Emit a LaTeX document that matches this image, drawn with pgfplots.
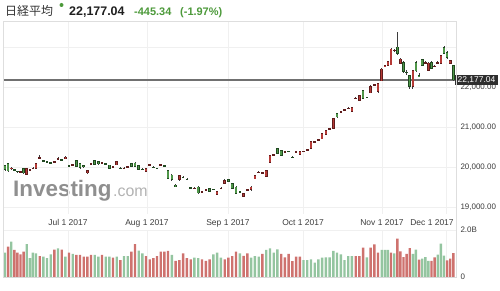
\documentclass[border=0pt]{standalone}
\usepackage{pgfplots}
\pgfplotsset{compat=1.18}
\usepackage{pgfplotstable}
\usepackage{fontspec}
\setmainfont{Liberation Sans}
\newfontfamily\cjk{Noto Sans CJK JP}
\definecolor{upfill}{RGB}{182,58,54}
\definecolor{upedge}{RGB}{95,28,28}
\definecolor{dnfill}{RGB}{78,150,72}
\definecolor{dnedge}{RGB}{32,72,32}
\definecolor{wickc}{RGB}{60,60,60}
\definecolor{volred}{RGB}{206,114,110}
\definecolor{volgreen}{RGB}{148,197,160}
\definecolor{hdrgreen}{RGB}{76,153,58}
\definecolor{pricec}{RGB}{112,112,112}
\definecolor{gridc}{RGB}{240,240,240}
\definecolor{borderc}{RGB}{222,222,222}
\definecolor{labelc}{RGB}{60,60,60}

\pgfplotstableread{
x o h l c v vc
5.0 20040 20060 19910 19930 1.04 1
8.1 20080 20100 19880 19900 1.29 0
11.2 19950 19990 19930 19975 1.50 1
14.3 19930 19945 19900 19920 1.15 0
17.4 19895 19910 19860 19885 1.04 0
20.5 19880 19910 19860 19890 0.96 0
23.6 19960 19975 19830 19850 1.08 0
26.7 19810 19975 19790 19960 1.40 1
29.8 19930 19960 19910 19945 0.80 1
32.9 19960 19990 19940 19970 1.04 1
36.0 19970 20100 19960 20090 1.01 1
39.7 20230 20300 20200 20240 0.89 0
43.3 20170 20180 20130 20150 0.87 1
47.0 20140 20150 20110 20130 0.80 1
50.7 20110 20130 20090 20100 0.96 1
54.3 20130 20160 20110 20140 1.17 0
58.0 20200 20240 20190 20215 1.22 1
61.7 20180 20200 20150 20170 1.17 0
65.3 20220 20270 20200 20250 0.87 1
69.0 20040 20060 20000 20030 1.04 0
72.7 20050 20080 20030 20060 0.98 1
76.3 20160 20175 20000 20020 0.94 0
80.0 20090 20100 19960 19980 0.94 0
83.7 20040 20060 19970 20000 0.87 0
87.3 19850 19935 19830 19920 0.87 0
91.0 20080 20110 20070 20095 0.94 0
94.7 20155 20175 20040 20060 0.94 1
98.3 20130 20140 20060 20080 0.87 1
102.0 20100 20125 20090 20110 0.94 0
105.7 20085 20095 20050 20070 0.87 1
109.3 20050 20060 19950 19970 0.87 1
113.0 20000 20030 19990 20010 0.82 0
116.7 20050 20140 20040 20130 0.87 1
120.3 19975 19990 19950 19965 0.72 0
124.0 19960 19990 19940 19970 0.89 1
127.7 20000 20025 19985 20010 0.89 1
131.3 20090 20100 19995 20010 1.08 0
135.0 20100 20133 20000 20020 1.40 0
138.7 20040 20060 19930 19945 1.12 1
142.3 19950 19965 19920 19940 1.01 1
146.0 19890 19980 19875 19965 0.89 0
149.7 20040 20075 20030 20055 0.75 0
153.3 20000 20015 19975 19990 0.80 0
157.0 19970 19985 19945 19960 0.89 0
160.7 20045 20070 20030 20055 1.08 0
164.3 20030 20045 20000 20020 1.08 0
168.0 19920 19935 19700 19720 1.11 0
171.8 19800 19815 19660 19680 0.94 1
175.6 19550 19570 19500 19520 0.69 0
179.3 19680 19810 19660 19790 0.72 0
183.1 19750 19770 19720 19740 1.01 0
186.9 19700 19720 19670 19690 0.80 0
190.7 19480 19500 19440 19465 0.75 0
194.4 19460 19490 19440 19470 0.82 1
198.2 19500 19515 19330 19350 0.80 1
202.0 19380 19410 19360 19390 0.75 0
205.8 19420 19450 19400 19430 0.69 0
209.6 19465 19480 19370 19390 0.75 0
213.3 19445 19460 19420 19435 0.96 1
217.1 19305 19395 19290 19380 1.04 1
220.9 19460 19490 19445 19470 0.82 1
224.7 19580 19690 19565 19670 0.75 0
228.4 19690 19710 19620 19640 0.82 0
232.2 19590 19600 19455 19470 0.89 0
236.0 19500 19515 19330 19345 1.08 0
239.8 19390 19410 19360 19380 1.01 1
243.6 19260 19355 19240 19340 0.90 0
247.3 19420 19450 19400 19430 1.00 0
251.1 19430 19520 19410 19500 0.82 1
254.9 19700 19810 19690 19790 0.89 1
258.7 19860 19890 19840 19870 0.87 1
262.4 19850 19880 19830 19860 0.98 0
266.2 19770 19920 19755 19905 1.15 1
270.0 20110 20310 20100 20295 1.22 1
273.7 20295 20330 20280 20305 1.04 1
277.4 20460 20475 20330 20345 1.18 1
281.2 20420 20430 20265 20280 0.98 0
284.9 20380 20410 20365 20390 0.84 0
288.6 20395 20410 20370 20385 0.98 0
292.3 20250 20265 20225 20240 0.68 0
296.1 20375 20400 20360 20385 0.87 0
299.8 20305 20395 20290 20380 0.87 0
303.5 20385 20410 20370 20395 0.72 1
307.2 20420 20450 20405 20430 0.72 1
311.0 20470 20645 20460 20630 0.75 1
314.7 20625 20660 20610 20640 0.61 1
318.4 20680 20710 20665 20690 0.75 1
322.1 20700 20855 20690 20840 0.82 1
325.8 20810 20935 20795 20920 0.83 1
329.6 20950 20985 20930 20965 0.83 1
333.3 20970 21225 20960 21210 1.11 1
337.0 21335 21350 21235 21250 1.04 1
340.8 21375 21405 21360 21390 0.96 1
344.5 21420 21450 21400 21430 0.72 1
348.2 21460 21490 21445 21470 0.89 1
351.9 21390 21505 21375 21490 0.89 1
355.7 21710 21740 21695 21720 0.89 0
359.4 21665 21810 21650 21795 0.89 0
363.1 21920 21935 21705 21720 1.25 0
366.8 21745 21760 21720 21735 0.83 1
370.6 21850 22040 21840 22020 1.25 0
374.3 22050 22085 22035 22065 1.39 0
378.0 21880 22090 21860 22080 1.04 0
381.7 22150 22470 22140 22450 1.15 1
384.8 22510 22560 22490 22545 1.15 1
387.9 22545 22655 22530 22640 1.15 1
391.0 22550 22965 22540 22950 1.04 0
394.2 22910 22960 22880 22925 1.01 1
397.3 23000 23382 22790 22840 1.63 0
400.4 22590 22720 22570 22700 1.09 0
403.5 22620 22640 22360 22380 0.85 0
406.6 22370 22417 22310 22360 0.98 0
409.7 22290 22300 21960 22010 1.23 0
412.8 22010 22425 21960 22410 0.98 1
415.9 22620 22650 22380 22400 1.16 1
419.1 22290 22350 22250 22265 0.74 0
422.2 22680 22700 22520 22540 0.78 1
425.3 22600 22650 22580 22615 0.85 1
428.4 22420 22620 22400 22600 0.69 1
431.5 22620 22640 22450 22470 0.69 0
434.6 22510 22550 22490 22525 0.83 0
437.7 22600 22650 22580 22620 0.95 1
440.8 22590 22800 22570 22780 1.42 1
444.0 22990 23020 22820 22840 0.91 1
447.1 22870 22890 22710 22730 0.71 0
450.2 22590 22680 22570 22660 0.78 0
453.3 22540 22560 22150 22177 1.02 0
}\data

\pgfplotsset{
  candle/.style={draw=none, mark=none, forget plot,
    error bars/y dir=both, error bars/y explicit, error bars/error mark=none},
}

\begin{document}
\begin{tikzpicture}[x=1bp,y=1bp]
\path[use as bounding box] (0bp,0bp) rectangle (500bp,291bp);

% header
\node[anchor=base west, inner sep=0, text=black!80, font=\cjk\fontsize{12}{12}\selectfont] at (5bp,275.4bp) {日経平均};
\fill[hdrgreen] (61.5bp,286bp) circle (2bp);
\node[anchor=base west, inner sep=0, text=black!88, font=\bfseries\fontsize{12.5}{12}\selectfont] at (69bp,275.5bp) {22,177.04};
\node[anchor=base west, inner sep=0, text=hdrgreen, font=\bfseries\fontsize{11}{12}\selectfont] at (134bp,275.5bp) {-445.34};
\node[anchor=base west, inner sep=0, text=hdrgreen, font=\bfseries\fontsize{11}{12}\selectfont] at (180bp,275.5bp) {(-1.97\%)};

% watermark
\node[anchor=base west, inner sep=0, text=black!44, font=\bfseries\fontsize{22.5}{22}\selectfont] at (13bp,94bp) {Investing};
\node[anchor=base west, inner sep=0, text=black!30, font=\fontsize{16}{16}\selectfont] at (113bp,94bp) {.com};

\begin{axis}[
  at={(3bp,77bp)}, anchor=south west, width=454bp, height=193bp, scale only axis,
  xmin=3, xmax=457, ymin=18825, ymax=23650,
  axis line style={draw=none}, major tick length=0pt,
  scaled y ticks=false, scaled x ticks=false,
  /pgf/number format/assume math mode=true,
  xtick={68,147,228,303,382},
  xticklabels={Jul 1 2017,Aug 1 2017,Sep 1 2017,Oct 1 2017,Nov 1 2017},
  extra x ticks={446}, extra x tick labels={Dec 1 2017},
  extra x tick style={grid=major, xticklabel style={xshift=-14bp}},
  ytick={19000,20000,21000,22000},
  yticklabels={{19,000.00},{20,000.00},{21,000.00},{22,000.00}},
  extra y ticks={23000}, extra y tick labels={}, extra y tick style={grid=major},
  yticklabel pos=right,
  xmajorgrids, ymajorgrids, grid style={draw=gridc, line width=0.7bp},
  xticklabel style={font=\fontsize{8.5}{9}\selectfont, text=labelc, yshift=-2bp},
  yticklabel style={font=\fontsize{8}{9}\selectfont, text=labelc},
  clip=false,
]
\addplot[line width=1.6bp, color=pricec, forget plot] coordinates {(3,22177.04) (455,22177.04)};
% wicks
\addplot[candle, error bars/error bar style={draw=wickc, line width=0.7bp}]
  table[x=x, y expr={(\thisrow{h}+\thisrow{l})/2}, y error expr={(\thisrow{h}-\thisrow{l})/2}] {\data};
% up bodies
\addplot[candle, error bars/error bar style={draw=upedge, line width=2.6bp},
  restrict expr to domain={\thisrow{c}-\thisrow{o}}{0:100000}]
  table[x=x, y expr={(\thisrow{o}+\thisrow{c})/2}, y error expr={abs(\thisrow{c}-\thisrow{o})/2+12}] {\data};
\addplot[candle, error bars/error bar style={draw=upfill, line width=1.5bp},
  restrict expr to domain={\thisrow{c}-\thisrow{o}}{0:100000}]
  table[x=x, y expr={(\thisrow{o}+\thisrow{c})/2}, y error expr={max(abs(\thisrow{c}-\thisrow{o})/2-10,0)}] {\data};
% down bodies
\addplot[candle, error bars/error bar style={draw=dnedge, line width=2.6bp},
  restrict expr to domain={\thisrow{c}-\thisrow{o}}{-100000:-0.001}]
  table[x=x, y expr={(\thisrow{o}+\thisrow{c})/2}, y error expr={abs(\thisrow{c}-\thisrow{o})/2+12}] {\data};
\addplot[candle, error bars/error bar style={draw=dnfill, line width=1.5bp},
  restrict expr to domain={\thisrow{c}-\thisrow{o}}{-100000:-0.001}]
  table[x=x, y expr={(\thisrow{o}+\thisrow{c})/2}, y error expr={max(abs(\thisrow{c}-\thisrow{o})/2-10,0)}] {\data};
\coordinate (pl) at (axis cs:455,22177.04);
\end{axis}

\node[anchor=west, fill=black!82, text=white, font=\fontsize{8.5}{9}\selectfont, inner xsep=2.5bp, inner ysep=1.6bp] at (pl) {22,177.04};

\begin{axis}[
  at={(3bp,14bp)}, anchor=south west, width=454bp, height=47bp, scale only axis,
  xmin=3, xmax=457, ymin=0, ymax=2,
  axis line style={draw=none}, major tick length=0pt,
  scaled y ticks=false, scaled x ticks=false,
  /pgf/number format/assume math mode=true,
  xtick={68,147,228,303,382,446}, xticklabels={},
  ytick={0,2}, yticklabels={0,2.0B},
  yticklabel pos=right,
  xmajorgrids, ymajorgrids, grid style={draw=gridc, line width=0.7bp},
  yticklabel style={font=\fontsize{8}{9}\selectfont, text=labelc},
]
\addplot[ybar, bar width=2.4bp, bar shift=0pt, fill=volgreen, draw=none,
  restrict expr to domain={\thisrow{vc}}{0.5:1.5}] table[x=x, y=v] {\data};
\addplot[ybar, bar width=2.4bp, bar shift=0pt, fill=volred, draw=none,
  restrict expr to domain={\thisrow{vc}}{-0.5:0.5}] table[x=x, y=v] {\data};
\end{axis}

\draw[borderc, line width=0.7bp] (3.3bp,14bp) -- (3.3bp,270bp) -- (456.7bp,270bp) -- (456.7bp,14bp);
\draw[black!15, line width=0.7bp] (3.3bp,14bp) -- (456.7bp,14bp);
\end{tikzpicture}
\end{document}
